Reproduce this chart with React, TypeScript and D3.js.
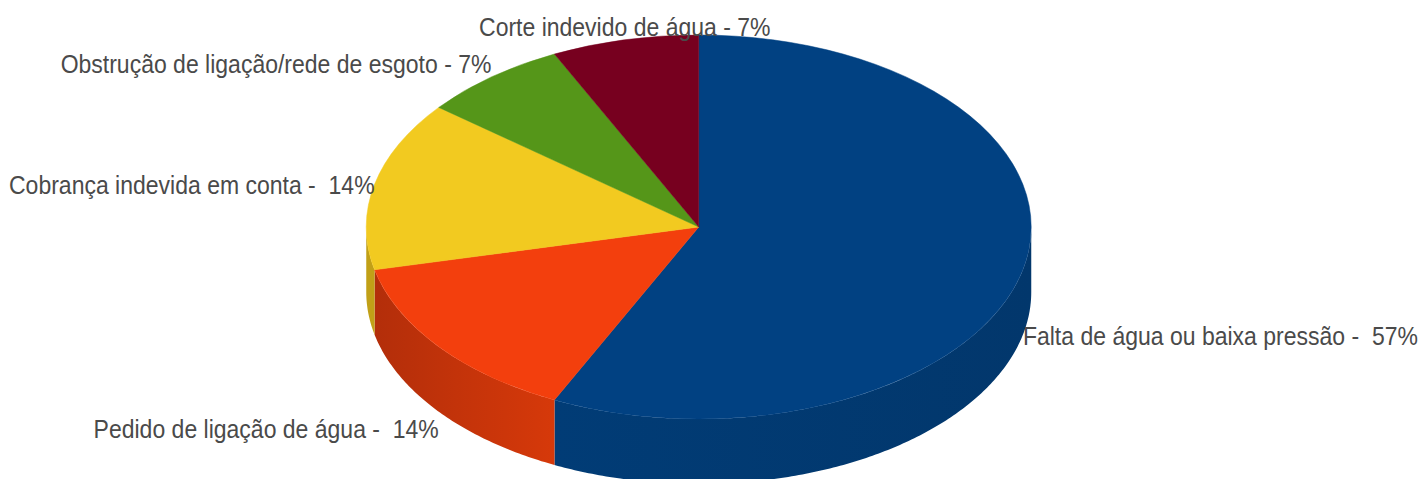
import React from 'react';
import * as d3 from 'd3';

const categories = [
  'Falta de água ou baixa pressão -  57%',
  'Pedido de ligação de água -  14%',
  'Cobrança indevida em conta -  14%',
  'Obstrução de ligação/rede de esgoto - 7%',
  'Corte indevido de água - 7%',
];
// share of each slice, the labels are these rounded to a percentage of 14
const counts = [8, 2, 2, 1, 1];
const topColors = ['#014182', '#f33f0d', '#f2ca20', '#559619', '#77001f'];
const wallLeft = ['#013c76', '#b32e0a', '#c1a017', '#44780f', '#5f0019'];
const wallRight = ['#02376c', '#d6390a', '#c1a017', '#44780f', '#5f0019'];

const width = 1424;
const height = 479;
const cx = 698.75;
const cy = 227;
const rx = 332.5;
const ry = 192;
const depth = 65;
const textSqueeze = 0.92;

const pie = d3.pie<number>().sort(null).value(d => d);
const arcs = pie(counts);
const unitArc = d3.arc<d3.PieArcDatum<number>>().innerRadius(0).outerRadius(1);

const px = (a: number) => cx + rx * Math.sin(a);
const py = (a: number) => cy - ry * Math.cos(a);

const wallArea = d3
  .area<number>()
  .x(a => px(a))
  .y0(a => py(a))
  .y1(a => py(a) + depth);

// only the front half of the rim (90deg to 270deg) can be seen
function wallPath(start: number, end: number) {
  const a0 = Math.max(start, Math.PI / 2);
  const a1 = Math.min(end, (3 * Math.PI) / 2);
  if (a1 <= a0) return null;
  const n = Math.ceil((a1 - a0) * 90);
  const angles = d3.range(n + 1).map(i => a0 + ((a1 - a0) * i) / n);
  return { d: wallArea(angles) as string, x0: px(a1), x1: px(a0) };
}

function labelPlacement(mid: number) {
  const s = Math.sin(mid);
  const c = Math.cos(mid);
  const anchor = s > 0.5 ? 'start' : s < -0.5 ? 'end' : 'middle';
  const lower = c < 0;
  let y = py(mid) + (lower ? depth : 0) + 1;
  if (c > 0.5) y -= 14;
  if (c < -0.5) y += 16;
  return { x: px(mid), y, anchor };
}

export default function App() {
  const walls = arcs.map(a => wallPath(a.startAngle, a.endAngle));
  return (
    <svg
      width={width}
      height={height}
      style={{ position: 'absolute', left: 0, top: 0, background: '#fff' }}
    >
      <defs>
        {walls.map((w, i) =>
          w ? (
            <linearGradient key={i} id={`wall${i}`} gradientUnits="userSpaceOnUse" x1={w.x0} x2={w.x1} y1={0} y2={0}>
              <stop offset="0" stopColor={wallLeft[i]} />
              <stop offset="1" stopColor={wallRight[i]} />
            </linearGradient>
          ) : null
        )}
      </defs>
      <g>
        {walls.map((w, i) => (w ? <path key={i} d={w.d} fill={`url(#wall${i})`} /> : null))}
      </g>
      <g transform={`translate(${cx},${cy}) scale(${rx},${ry})`}>
        {arcs.map((a, i) => (
          <path
            key={i}
            d={unitArc(a) as string}
            fill={topColors[i]}
            stroke={topColors[i]}
            strokeWidth={0.5}
            vectorEffect="non-scaling-stroke"
          />
        ))}
      </g>
      <g fontFamily="'Liberation Sans', sans-serif" fontSize={25} fill="#4a4a4a">
        {arcs.map((a, i) => {
          const p = labelPlacement((a.startAngle + a.endAngle) / 2);
          return (
            <text
              key={i}
              transform={`translate(${p.x},${p.y}) scale(${textSqueeze},1)`}
              textAnchor={p.anchor}
              dominantBaseline="central"
              style={{ whiteSpace: 'pre' }}
            >
              {categories[i]}
            </text>
          );
        })}
      </g>
    </svg>
  );
}
